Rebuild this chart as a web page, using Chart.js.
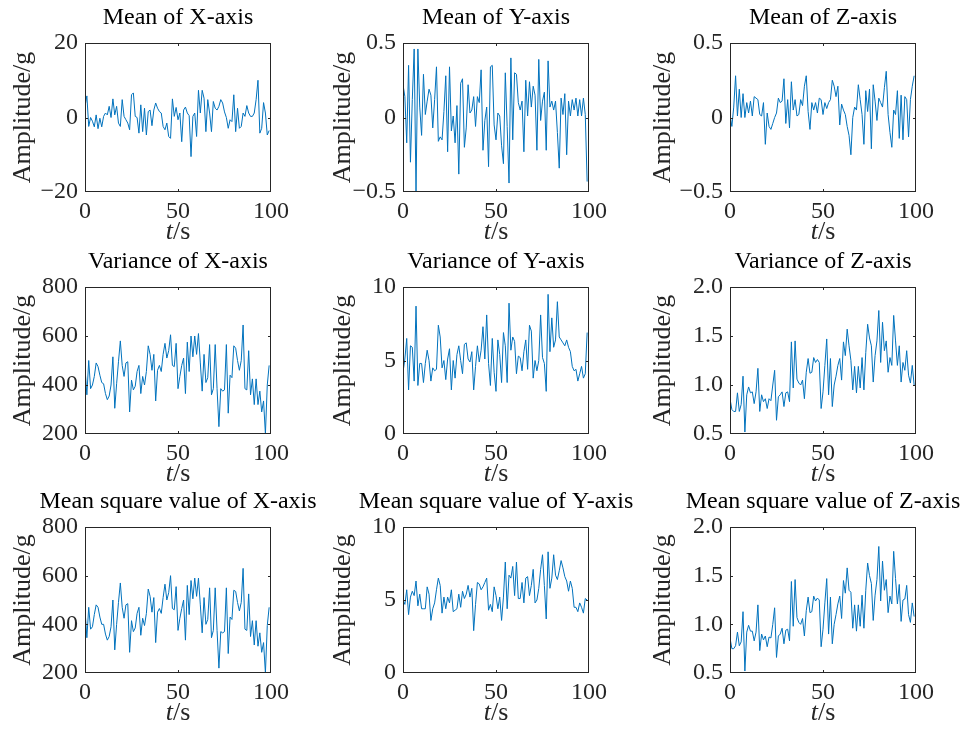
<!DOCTYPE html>
<html>
<head>
<meta charset="utf-8">
<script src="https://cdn.jsdelivr.net/npm/chart.js@4.4.1/dist/chart.umd.min.js"></script>
<style>
  html, body { margin: 0; padding: 0; background: #fff; overflow: hidden; }
  #fig { position: relative; width: 964px; height: 729px; }
  #fig canvas { position: absolute; }
</style>
</head>
<body>
<div id="fig"></div>
<script>
// sampling time, one value per second
const seconds = Array.from({ length: 100 }, (_, i) => i);

const meanX = [
  3, 5.8, -2.4, 0, -1, -2.5, 0.7, -3, -0.2, -2.5,
  0.3, 1.2, 0.7, 3, 0, 5, 0.7, 3, -1.5, -2.4,
  4.8, 0.3, -0.6, -1.5, -3.3, 6.1, 6.6, 0.3, 0, -4.2,
  3.4, -3.8, 2.5, -4.7, 1.6, 2, -2.2, 2, 3.9, 2.5,
  1.6, 1.2, -2.4, -3.3, -1.5, -5.1, -5.6, 5, 0.3, 2.7,
  -0.6, 1.2, -6.5, 2, 2.8, 1.2, 0.5, -10.5, 0.3, 1.2,
  -5.1, 7.3, 1.2, 7.3, 5.2, -3.8, 4.8, 1.2, -3.8, 4.3,
  2.5, 2, 3, 4.8, 3.9, 1.5, 0, -2.9, -0.6, -1.1,
  6.1, -3.8, 2.5, -2.9, -2.4, 1.2, 0.3, 3.2, 1.2, 0.3,
  0.3, 1.2, 4.8, 10, -4.2, -2.9, 4, 1.2, -4.7, -3.5
];
const meanY = [
  0.22, 0.14, -0.17, 0.35, -0.3, 0.12, 0.46, -0.5, 0.46, 0.07,
  -0.12, 0.29, 0.02, 0.11, 0.19, 0.15, -0.07, 0.12, 0.34, -0.16,
  -0.13, -0.15, 0.04, 0.28, -0.23, 0.34, -0.09, 0.01, -0.17, 0.08,
  -0.38, 0.23, 0.26, -0.2, -0.07, 0.22, 0.03, 0.05, 0.14, -0.06,
  0.14, 0.1, 0.32, -0.22, -0.02, 0.07, -0.33, 0.34, 0.35, -0.05,
  -0.15, 0.03, 0.01, -0.19, -0.31, 0.3, -0.06, -0.44, 0.4, -0.15,
  0.3, 0.29, 0.1, 0.05, 0.11, -0.23, 0.25, 0.01, 0.24, 0.07,
  0.21, 0.15, -0.22, 0.39, -0.02, 0.11, 0.17, -0.22, 0.38, 0.07,
  0.11, 0.05, 0.11, -0.1, -0.34, 0.13, 0.02, 0.16, -0.25, 0.11,
  0.01, 0.12, 0.05, 0.13, 0.01, 0.12, 0.01, 0.13, 0.02, -0.43
];
const meanZ = [
  0.02, -0.06, 0.07, 0.28, 0.01, 0.19, 0, 0.16, 0, 0.1,
  0.03, 0.11, 0.01, 0.14, 0.13, 0.12, 0.02, 0.01, 0.1, -0.18,
  0.03, -0.06, -0.08, -0.04, 0, 0.03, 0.13, 0.1, 0.11, 0.26,
  -0.04, 0.12, -0.07, 0.24, 0.05, 0.12, 0.01, 0.02, 0.12, 0.08,
  0.21, 0.28, 0.04, -0.08, 0.1, 0.05, 0.1, 0.03, 0.13, 0.12,
  0.02, 0.1, 0.06, 0.1, 0.12, 0.25, 0.21, 0.14, 0.21, -0.05,
  0.09, 0.05, 0.02, -0.06, -0.12, -0.25, 0, 0.07, 0.05, 0.22,
  0.12, 0.02, -0.18, 0.18, 0.04, 0.19, -0.21, 0.22, 0.11, -0.02,
  0.13, 0.1, 0.07, 0.2, 0.31, 0.02, -0.1, -0.2, 0.05, 0.02,
  0.18, -0.14, 0.15, -0.15, 0.14, 0.12, -0.13, 0.12, 0.21, 0.28
];
const varX = [
  470, 360, 500, 385, 400, 435, 490, 475, 440, 410,
  405, 365, 340, 355, 400, 515, 305, 405, 495, 580,
  480, 435, 490, 495, 290, 420, 380, 395, 455, 480,
  365, 435, 400, 455, 560, 525, 460, 525, 335, 460,
  480, 455, 525, 570, 510, 540, 605, 480, 475, 570,
  385, 435, 480, 510, 365, 575, 455, 600, 515, 600,
  525, 610, 490, 375, 525, 410, 430, 565, 360, 385,
  565, 385, 230, 385, 375, 380, 565, 285, 440, 430,
  560, 550, 500, 460, 500, 645, 385, 380, 540, 360,
  425, 320, 425, 320, 375, 290, 335, 200, 400, 480
];
const varY = [
  4.2, 5.1, 6.5, 3.0, 6.0, 5.9, 3.6, 8.7, 3.3, 4.8,
  4.8, 3.5, 4.8, 5.7, 5.0, 3.6, 4.5, 4.3, 4.4, 7.4,
  6.6, 4.5, 5.0, 3.7, 5.1, 5.8, 3.0, 5.0, 3.8, 5.4,
  6.0, 5.0, 4.1, 6.1, 6.2, 5.1, 4.9, 5.6, 3.0, 4.6,
  6.0, 4.9, 5.7, 7.3, 5.1, 8.1, 4.8, 3.3, 6.5, 4.2,
  2.9, 6.4, 5.4, 3.5, 6.9, 6.0, 3.5, 8.9, 5.7, 6.6,
  6.3, 4.1, 5.3, 5.2, 4.3, 5.6, 6.4, 4.4, 7.4, 7.0,
  3.8, 5.0, 4.3, 5.0, 8.1, 5.2, 4.8, 2.9, 9.5, 5.6,
  7.9, 5.9, 6.4, 9.0, 6.6, 6.4, 6.2, 6.0, 6.4, 5.9,
  5.6, 4.6, 4.3, 4.4, 3.6, 4.1, 4.6, 3.8, 4.1, 6.9
];
const varZ = [
  0.86, 0.75, 0.73, 0.73, 0.92, 0.73, 0.80, 1.09, 0.52, 0.9,
  0.98, 0.92, 0.93, 0.81, 0.93, 1.17, 0.73, 0.9, 0.83, 0.86,
  0.76, 0.86, 0.84, 1.0, 1.15, 0.64, 0.88, 0.9, 0.93, 0.78,
  0.92, 0.93, 0.83, 1.44, 0.97, 1.45, 1.06, 1.02, 1.0, 1.05,
  0.86, 1.13, 1.27, 1.12, 1.13, 1.28, 1.23, 1.26, 1.23, 0.76,
  0.93, 1.2, 1.47, 0.9, 1.27, 0.78, 1.0, 1.09, 1.2, 1.27,
  1.05, 1.44, 1.3, 1.57, 1.4, 1.25, 0.95, 1.19, 0.92, 1.19,
  0.97, 1.28, 0.95, 1.33, 1.62, 1.48, 1.40, 1.03, 1.3, 1.45,
  1.76, 1.23, 1.64, 1.35, 1.45, 1.13, 1.28, 1.2, 1.71, 1.45,
  1.2, 1.4, 1.03, 1.23, 1.15, 1.35, 1.1, 1.02, 1.2, 1.0
];
const msX = [
  460, 345, 470, 380, 390, 440, 480, 470, 430, 400,
  400, 360, 335, 350, 390, 500, 295, 400, 490, 570,
  470, 425, 480, 485, 285, 415, 370, 385, 445, 470,
  355, 425, 395, 445, 545, 515, 450, 510, 325, 450,
  465, 445, 510, 565, 500, 530, 600, 465, 460, 555,
  375, 425, 465, 500, 335, 560, 440, 580, 505, 590,
  515, 590, 480, 365, 510, 400, 420, 550, 345, 375,
  550, 375, 220, 370, 365, 370, 550, 280, 430, 420,
  540, 535, 490, 455, 490, 630, 380, 375, 525, 350,
  415, 315, 415, 310, 365, 285, 325, 200, 395, 470
];
const msY = [
  5.0, 4.7, 5.7, 4.0, 5.2, 5.6, 5.3, 6.3, 4.6, 5.4,
  4.4, 4.4, 4.4, 5.9, 5.4, 3.6, 4.4, 4.8, 5.7, 6.5,
  6.0, 4.1, 5.2, 4.4, 5.2, 4.8, 5.7, 4.2, 4.3, 4.4,
  5.4, 4.5, 5.6, 5.1, 5.4, 6.0, 5.2, 5.8, 2.9, 4.7,
  6.2, 6.1, 5.7, 5.9, 6.2, 6.5, 4.3, 4.7, 4.2, 5.9,
  5.3, 4.4, 5.2, 3.6, 5.2, 7.6, 4.4, 6.7, 6.5, 7.3,
  5.3, 7.6, 5.1, 5.1, 6.2, 4.8, 6.5, 6.6, 5.3, 6.0,
  7.1, 4.8, 5.0, 5.8, 7.1, 8.1, 6.0, 3.7, 8.3, 5.8,
  6.5, 8.1, 6.7, 6.4, 7.0, 7.7, 7.2, 6.6, 6.3, 5.6,
  6.3, 5.8, 4.5, 4.5, 4.2, 4.8, 4.5, 4.1, 5.1, 5.0
];
const msZ = [
  0.86, 0.75, 0.75, 0.78, 0.92, 0.78, 0.82, 1.13, 0.52, 0.92,
  0.99, 0.93, 0.93, 0.83, 0.92, 1.2, 0.73, 0.9, 0.84, 0.88,
  0.77, 0.87, 0.86, 1.0, 1.17, 0.66, 0.88, 0.9, 0.96, 0.8,
  0.94, 0.95, 0.83, 1.44, 0.98, 1.46, 1.07, 1.02, 1.0, 1.06,
  0.88, 1.14, 1.28, 1.12, 1.13, 1.29, 1.24, 1.27, 1.25, 0.77,
  0.95, 1.22, 1.47, 0.9, 1.28, 0.8, 1.0, 1.1, 1.21, 1.29,
  1.06, 1.45, 1.32, 1.58, 1.35, 1.33, 0.96, 1.2, 0.93, 1.2,
  0.98, 1.3, 0.96, 1.35, 1.63, 1.5, 1.42, 1.04, 1.3, 1.46,
  1.8, 1.24, 1.65, 1.35, 1.46, 1.12, 1.29, 1.21, 1.75, 1.47,
  1.21, 1.41, 1.03, 1.25, 1.26, 1.4, 1.1, 1.02, 1.22, 1.08
];

// one entry per subplot, row by row
const series = [meanX, meanY, meanZ, varX, varY, varZ, msX, msY, msZ];
const titles = [
  'Mean of X-axis', 'Mean of Y-axis', 'Mean of Z-axis',
  'Variance of X-axis', 'Variance of Y-axis', 'Variance of Z-axis',
  'Mean square value of X-axis', 'Mean square value of Y-axis', 'Mean square value of Z-axis'
];
const yTickValues = [
  [-20, 0, 20], [-0.5, 0, 0.5], [-0.5, 0, 0.5],
  [200, 400, 600, 800], [0, 5, 10], [0.5, 1.0, 1.5, 2.0],
  [200, 400, 600, 800], [0, 5, 10], [0.5, 1.0, 1.5, 2.0]
];
const yTickLabels = [
  ['\u221220', '0', '20'], ['\u22120.5', '0', '0.5'], ['\u22120.5', '0', '0.5'],
  ['200', '400', '600', '800'], ['0', '5', '10'], ['0.5', '1.0', '1.5', '2.0'],
  ['200', '400', '600', '800'], ['0', '5', '10'], ['0.5', '1.0', '1.5', '2.0']
];
const xTickValues = [0, 50, 100];
const yLabel = 'Amplitude/g';

// subplot geometry
const plotLeft = [85, 403, 730];
const plotTop = [43, 287, 527];
const plotBottom = [192, 434, 673];
const plotWidth = 186;
const yAxisWidth = 85;
const xAxisHeight = 56;
const padRight = 50;
const yLabelOffset = [62, 60, 67];

const serif = "'Liberation Serif', 'Times New Roman', serif";
const ink = '#262626';
const lineBlue = '#0072BD';

// box, inward ticks, title and the t/s label
const frame = {
  id: 'frame',
  afterDraw(chart, args, opts) {
    const { ctx, chartArea: a, scales: { x, y } } = chart;
    const tick = 3;
    ctx.save();
    ctx.strokeStyle = ink;
    ctx.lineWidth = 1;
    ctx.strokeRect(a.left + 0.5, a.top + 0.5, a.right - a.left - 1, a.bottom - a.top - 1);
    ctx.beginPath();
    x.ticks.forEach(t => {
      const px = Math.round(x.getPixelForValue(t.value)) + 0.5;
      if (px <= a.left + 1 || px >= a.right - 1) return;
      ctx.moveTo(px, a.bottom); ctx.lineTo(px, a.bottom - tick);
      ctx.moveTo(px, a.top); ctx.lineTo(px, a.top + tick);
    });
    y.ticks.forEach(t => {
      const py = Math.round(y.getPixelForValue(t.value)) + 0.5;
      if (py <= a.top + 1 || py >= a.bottom - 1) return;
      ctx.moveTo(a.left, py); ctx.lineTo(a.left + tick, py);
      ctx.moveTo(a.right, py); ctx.lineTo(a.right - tick, py);
    });
    ctx.stroke();

    const cx = (a.left + a.right) / 2;
    ctx.fillStyle = '#000';
    ctx.textAlign = 'center';
    ctx.textBaseline = 'alphabetic';
    ctx.font = '24px ' + serif;
    ctx.fillText(opts.title, cx, a.top - 19);

    ctx.fillStyle = ink;
    ctx.textAlign = 'left';
    ctx.font = 'italic 26px ' + serif;
    const tw = ctx.measureText('t').width;
    ctx.font = '26px ' + serif;
    const sw = ctx.measureText('/s').width;
    const x0 = cx - (tw + sw) / 2;
    ctx.font = 'italic 26px ' + serif;
    ctx.fillText('t', x0, a.bottom + 47);
    ctx.font = '26px ' + serif;
    ctx.fillText('/s', x0 + tw, a.bottom + 47);
    ctx.restore();
  }
};

const fig = document.getElementById('fig');

series.forEach((values, i) => {
  const row = Math.floor(i / 3);
  const col = i % 3;
  const plotHeight = plotBottom[row] - plotTop[row];
  const canvas = document.createElement('canvas');
  canvas.width = yAxisWidth + plotWidth + padRight;
  canvas.height = plotTop[0] + plotHeight + xAxisHeight;
  canvas.style.left = (plotLeft[col] - yAxisWidth) + 'px';
  canvas.style.top = (plotTop[row] - plotTop[0]) + 'px';
  fig.appendChild(canvas);

  const yVals = yTickValues[i];
  const yText = yTickLabels[i];

  new Chart(canvas, {
    type: 'line',
    data: {
      datasets: [{
        data: values.map((v, k) => ({ x: seconds[k], y: v })),
        borderColor: lineBlue,
        borderWidth: 1,
        pointRadius: 0,
        tension: 0,
        fill: false
      }]
    },
    options: {
      responsive: false,
      animation: false,
      events: [],
      layout: { padding: { left: 0, right: padRight, top: plotTop[0], bottom: 0 } },
      plugins: {
        legend: { display: false },
        tooltip: { enabled: false },
        frame: { title: titles[i] }
      },
      scales: {
        x: {
          type: 'linear',
          min: 0,
          max: 100,
          grid: { display: false, drawTicks: false },
          border: { display: false },
          afterBuildTicks: axis => { axis.ticks = xTickValues.map(v => ({ value: v })); },
          afterFit: axis => { axis.height = xAxisHeight; },
          ticks: {
            padding: 5,
            maxRotation: 0,
            color: ink,
            font: { family: serif, size: 24 },
            callback: v => String(v)
          }
        },
        y: {
          min: yVals[0],
          max: yVals[yVals.length - 1],
          grid: { display: false, drawTicks: false },
          border: { display: false },
          afterBuildTicks: axis => { axis.ticks = yVals.map(v => ({ value: v })); },
          afterFit: axis => { axis.width = yAxisWidth; },
          ticks: {
            padding: 7,
            color: ink,
            font: { family: serif, size: 24 },
            callback: (v, idx) => yText[idx]
          },
          title: {
            display: true,
            text: yLabel,
            color: ink,
            font: { family: serif, size: 26 },
            padding: { top: yAxisWidth - yLabelOffset[col] - 15.6, bottom: 0 }
          }
        }
      }
    },
    plugins: [frame]
  });
});
</script>
</body>
</html>
